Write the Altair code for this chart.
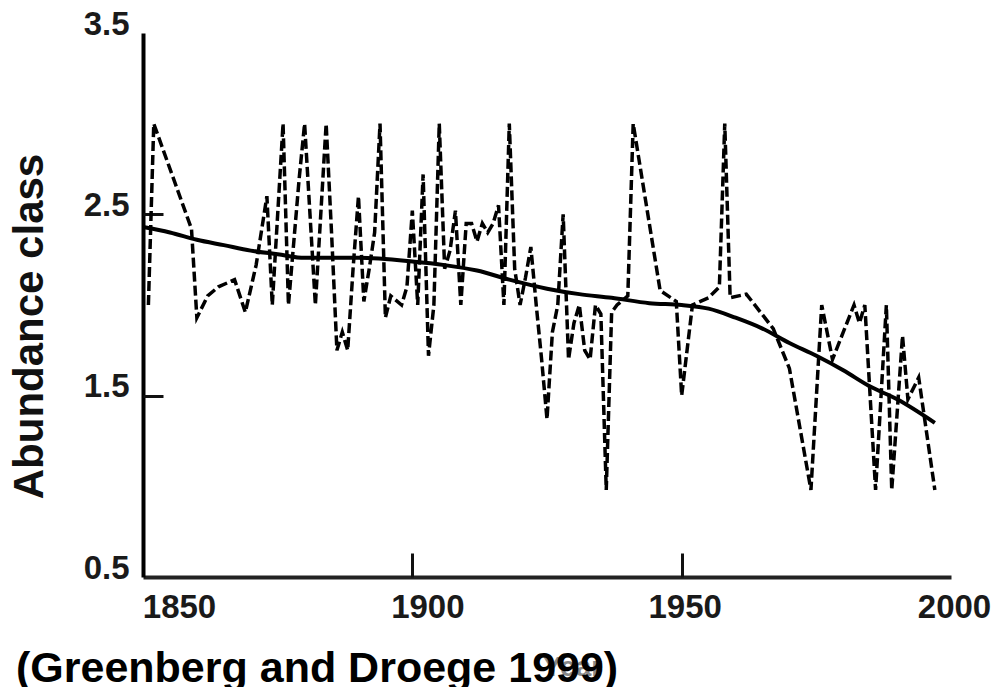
import altair as alt
import pandas as pd

# ---- data ----
YEARS = [1851, 1852, 1859, 1860, 1862, 1864, 1867, 1869, 1871, 1873, 1874, 1875,
         1876, 1877, 1878, 1879, 1880, 1881, 1882, 1883, 1884, 1885, 1886, 1887,
         1888, 1889, 1890, 1891, 1892, 1893, 1894, 1895, 1896, 1898, 1899, 1900,
         1901, 1902, 1903, 1904, 1905, 1906, 1907, 1908, 1909, 1910, 1911, 1912,
         1913, 1914, 1915, 1916, 1917, 1918, 1919, 1920, 1921, 1922, 1923, 1924,
         1925, 1926, 1927, 1928, 1929, 1930, 1931, 1932, 1933, 1934, 1935, 1936,
         1937, 1938, 1940, 1941, 1946, 1949, 1950, 1952, 1955, 1957, 1958, 1959,
         1962, 1967, 1970, 1974, 1976, 1978, 1980, 1982, 1983, 1984, 1986, 1988,
         1989, 1991, 1992, 1994, 1997]
ABUNDANCE = [2.0, 3.0, 2.42, 1.93, 2.05, 2.1, 2.14, 1.96, 2.22, 2.6, 2.0, 2.5,
             3.0, 2.0, 2.35, 2.7, 3.0, 2.5, 2.0, 2.5, 3.0, 2.4, 1.75, 1.85,
             1.75, 2.2, 2.6, 2.02, 2.2, 2.4, 3.0, 1.93, 2.05, 2.0, 2.1, 2.52,
             2.0, 2.72, 1.72, 2.0, 3.0, 2.2, 2.3, 2.52, 2.0, 2.45, 2.45, 2.35,
             2.45, 2.4, 2.45, 2.55, 2.0, 3.0, 2.2, 2.0, 2.15, 2.32, 2.0, 1.7,
             1.37, 1.85, 2.0, 2.5, 1.7, 1.9, 2.0, 1.75, 1.7, 2.0, 1.95, 0.98,
             1.96, 2.0, 2.05, 3.0, 2.08, 2.02, 1.5, 2.0, 2.04, 2.1, 3.0, 2.04,
             2.06, 1.87, 1.65, 0.98, 2.0, 1.7, 1.85, 2.0, 1.9, 2.0, 0.98, 2.0,
             0.98, 1.83, 1.48, 1.6, 0.98]

TREND_YEARS = [1850, 1855, 1860, 1865, 1870, 1875, 1880, 1890, 1900, 1906, 1912,
               1918, 1925, 1931, 1937, 1944, 1950, 1955, 1960, 1965, 1970, 1975,
               1980, 1985, 1990, 1997]
TREND_VALUES = [2.43, 2.40, 2.36, 2.33, 2.30, 2.28, 2.26, 2.26, 2.24, 2.22, 2.19,
                2.14, 2.09, 2.06, 2.04, 2.01, 2.0, 1.98, 1.93, 1.87, 1.79, 1.72,
                1.64, 1.55, 1.48, 1.35]

X_LABEL_TICKS = [1850, 1900, 1950, 2000]
X_MARK_TICKS = [1900, 1950]
Y_LABEL_TICKS = [0.5, 1.5, 2.5, 3.5]
Y_MARK_TICKS = [1.5, 2.5]
X_TITLE = "Year"
Y_TITLE = "Abundance class"
CAPTION = "(Greenberg and Droege 1999)"

annual = pd.DataFrame({"Year": YEARS, "Abundance": ABUNDANCE})
trend = pd.DataFrame({"Year": TREND_YEARS, "Abundance": TREND_VALUES})

W, H = 808, 544
BOLD_FONT = "Liberation Sans, Arial, sans-serif"

x_scale = alt.Scale(domain=[1850, 2000], nice=False, zero=False)
y_scale = alt.Scale(domain=[0.5, 3.5], nice=False, zero=False)

x_main_axis = alt.Axis(
    values=X_LABEL_TICKS, format="d", title=X_TITLE, grid=False,
    ticks=False, tickSize=0, domainColor="#222", domainWidth=4,
    labelFont=BOLD_FONT, labelFontSize=33, labelFontWeight="bold",
    labelColor="#1a1a1a", labelPadding=14, labelFlush=False, labelOverlap=False,
    labelOffset={"condition": [{"test": "datum.value == 1850", "value": 36},
                               {"test": "datum.value == 1900", "value": 15}],
                 "value": 3},
    titleFont=BOLD_FONT, titleFontSize=28, titleFontWeight="bold",
    titleColor="#888", titleX=429, titleY=76, titleAlign="center",
    titleBaseline="top",
)
y_main_axis = alt.Axis(
    values=Y_LABEL_TICKS, format=".1f", title=Y_TITLE, grid=False,
    ticks=False, tickSize=0, domainColor="#000", domainWidth=4,
    labelFont=BOLD_FONT, labelFontSize=33, labelFontWeight="bold",
    labelColor="#1a1a1a", labelPadding=14, labelOffset=-9, labelOverlap=False,
    labelFlush=False,
    titleFont=BOLD_FONT, titleFontSize=42, titleFontWeight="bold",
    titleColor="#111", titleX=-114, titleY=293, titleAngle=-90,
    titleAlign="center", titleBaseline="middle",
)
x_tick_axis = alt.Axis(
    orient="top", offset=-H, values=X_MARK_TICKS, domain=False, labels=False,
    ticks=True, tickSize=24, tickWidth=3, tickColor="#111", grid=False, title="",
)
y_tick_axis = alt.Axis(
    orient="right", offset=-W, values=Y_MARK_TICKS, domain=False, labels=False,
    ticks=True, tickSize=20, tickWidth=3, tickColor="#111", grid=False, title="",
)

dashed = alt.Chart(annual).mark_line(
    color="black", strokeWidth=3.5, strokeDash=[10, 4]
).encode(
    x=alt.X("Year:Q", scale=x_scale, axis=x_main_axis),
    y=alt.Y("Abundance:Q", scale=y_scale, axis=y_main_axis),
)

smooth = alt.Chart(trend).mark_line(
    color="black", strokeWidth=4, interpolate="monotone"
).encode(
    x=alt.X("Year:Q", scale=x_scale, axis=x_tick_axis),
    y=alt.Y("Abundance:Q", scale=y_scale, axis=y_tick_axis),
)

chart = alt.layer(dashed, smooth).resolve_axis(
    x="independent", y="independent"
).properties(
    width=W, height=H,
    autosize=alt.AutoSizeParams(type="none"),
    padding={"left": 135, "top": 25, "right": 43, "bottom": 110},
    background="white",
    title=alt.TitleParams(
        text=CAPTION, orient="bottom", anchor="start", font=BOLD_FONT,
        fontSize=43, fontWeight="bold", color="black", offset=-33, dx=8,
    ),
).configure_view(stroke="transparent")

chart.save("out.html", embed_options={"renderer": "svg", "actions": False})
